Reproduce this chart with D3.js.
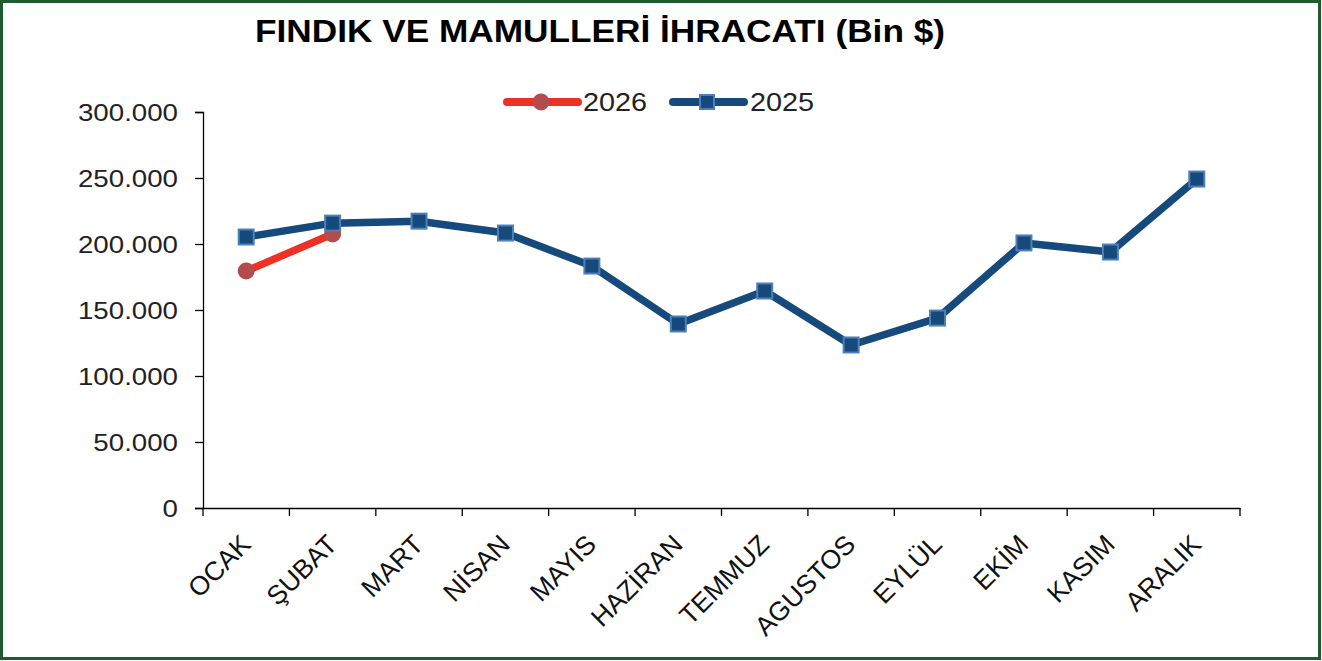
<!DOCTYPE html>
<html><head><meta charset="utf-8">
<script src="https://cdn.jsdelivr.net/npm/d3@7"></script>
<style>body{margin:0;background:#fff;font-family:"Liberation Sans",Arial,sans-serif;}</style>
</head><body><svg id="c" width="1322" height="661"></svg>
<script>
const months = ["OCAK","ŞUBAT","MART","NİSAN","MAYIS","HAZİRAN","TEMMUZ","AGUSTOS","EYLÜL","EKİM","KASIM","ARALIK"];
const values2025 = [205300,215800,217300,208300,183300,139400,164400,123500,143900,200800,193900,249200];
const values2026 = [179500,207600];
const yTicks = [0,50000,100000,150000,200000,250000,300000];
const title = "FINDIK VE MAMULLERİ İHRACATI (Bin $)";
const seriesNames = ["2026","2025"];

const SX = 1.13; // horizontal text stretch seen in the reference
const svg = d3.select("#c");
svg.append("rect").attr("x",1.5).attr("y",1.5).attr("width",1318).attr("height",657)
  .attr("fill","#fff").attr("stroke","#1e5b2f").attr("stroke-width",3);

const m = {l:203, r:1240, t:112, b:508};
const x = d3.scaleBand().domain(months).range([m.l,m.r]);
const y = d3.scaleLinear().domain([0,300000]).range([m.b,m.t]);
const fmt = v => d3.format(",")(v).replace(/,/g,".");
const cx = d => x(d)+x.bandwidth()/2;

const ya = svg.append("g").attr("transform",`translate(${m.l},0)`)
  .call(d3.axisLeft(y).tickValues(yTicks).tickFormat("").tickSizeOuter(0).tickSize(8));
ya.select(".domain").attr("stroke","#000").attr("stroke-width",1.3);
ya.selectAll(".tick line").attr("stroke","#000").attr("stroke-width",1.3);
svg.append("g").selectAll("text").data(yTicks).join("text")
  .attr("transform",d=>`translate(178,${y(d)+9}) scale(${SX},1)`)
  .attr("text-anchor","end").attr("font-size",24.5).attr("fill","#222").text(fmt);

const xa = svg.append("g").attr("transform",`translate(0,${m.b})`)
  .call(d3.axisBottom(x).tickSize(0).tickSizeOuter(0).tickFormat(""));
xa.select(".domain").attr("stroke","#000").attr("stroke-width",1.3);
const tickPos = months.map(d=>x(d)).concat([m.r]);
svg.append("g").selectAll("line").data(tickPos).join("line")
  .attr("x1",d=>d).attr("x2",d=>d).attr("y1",m.b).attr("y2",m.b+8)
  .attr("stroke","#000").attr("stroke-width",1.3);
svg.append("g").selectAll("text").data(months).join("text")
  .attr("transform",d=>`translate(${cx(d)+6},${m.b+38}) rotate(-45)`)
  .attr("text-anchor","end").attr("font-size",26.5).attr("fill","#111").text(d=>d);

const line = d3.line().x((d,i)=>cx(months[i])).y(d=>y(d));
svg.append("path").datum(values2025).attr("d",line).attr("fill","none")
  .attr("stroke","#174a7c").attr("stroke-width",7.5).attr("stroke-linejoin","round");
svg.append("path").datum(values2026).attr("d",line).attr("fill","none")
  .attr("stroke","#ee3124").attr("stroke-width",7.5).attr("stroke-linecap","round");
svg.append("g").selectAll("circle").data(values2026).join("circle")
  .attr("cx",(d,i)=>cx(months[i])).attr("cy",d=>y(d)).attr("r",8.5)
  .attr("fill","#b34d4d");
svg.append("g").selectAll("rect").data(values2025).join("rect")
  .attr("x",(d,i)=>cx(months[i])-7.5).attr("y",d=>y(d)-7.5)
  .attr("width",15).attr("height",15)
  .attr("fill","#174a7c").attr("stroke","#4f7fb8").attr("stroke-width",2);

svg.append("text").attr("x",255).attr("y",42)
  .attr("font-size",32).attr("font-weight","bold").attr("fill","#000")
  .attr("textLength",690).attr("lengthAdjust","spacingAndGlyphs").text(title);

// legend
const lg = svg.append("g");
lg.append("line").attr("x1",507).attr("x2",578).attr("y1",102).attr("y2",102)
  .attr("stroke","#ee3124").attr("stroke-width",8).attr("stroke-linecap","round");
lg.append("circle").attr("cx",541).attr("cy",102).attr("r",8.5).attr("fill","#b34d4d");
lg.append("text").attr("transform",`translate(583,111) scale(${SX},1)`).attr("font-size",25.5).attr("fill","#222").text(seriesNames[0]);
lg.append("line").attr("x1",673).attr("x2",744).attr("y1",102).attr("y2",102)
  .attr("stroke","#174a7c").attr("stroke-width",8).attr("stroke-linecap","round");
lg.append("rect").attr("x",700).attr("y",95).attr("width",14).attr("height",14)
  .attr("fill","#174a7c").attr("stroke","#4f7fb8").attr("stroke-width",2);
lg.append("text").attr("transform",`translate(750,111) scale(${SX},1)`).attr("font-size",25.5).attr("fill","#222").text(seriesNames[1]);
</script></body></html>
